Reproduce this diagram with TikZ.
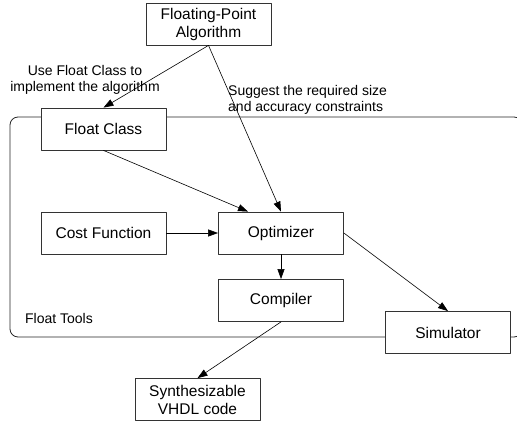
\documentclass[tikz,border=0pt]{standalone}
\usepackage{fontspec}
\setmainfont{Liberation Sans}
\usetikzlibrary{arrows.meta}

\tikzset{
  blk/.style={draw=black!80, fill=white, line width=0.8pt, minimum width=125pt,
    minimum height=42pt, inner sep=2pt, align=center,
    font=\fontsize{15.5}{18}\selectfont},
  elab/.style={inner sep=0pt, font=\fontsize{14}{15.5}\selectfont},
  flow/.style={-{Triangle[length=10pt,width=7pt]}, line width=0.6pt}
}

\begin{document}
\begin{tikzpicture}[x=1pt,y=-1pt, line cap=round, line join=round]
\useasboundingbox (0,0) rectangle (517,423);

% Float Tools frame
\begin{scope}
  \clip (0,0) rectangle (517,423);
  \draw[black!85, line width=0.8pt, rounded corners=8pt] (10,117) rectangle (522,337);
\end{scope}
\node[elab] (tools) at (59,318) {Float Tools};

% blocks
\node[blk] (alg)   at (208.5,24)   {Floating-Point\\Algorithm};
\node[blk] (fc)    at (103.5,129)  {Float Class};
\node[blk] (cost)  at (103.5,233)  {Cost Function};
\node[blk] (opt)   at (281,233)    {Optimizer};
\node[blk] (comp)  at (281,300.5)  {Compiler};
\node[blk] (sim)   at (448,332.5)  {Simulator};
\node[blk] (synth) at (197.5,399.5){Synthesizable\\VHDL code};

% arrows
\draw[flow] (alg.south) -- (fc.north);
\draw[flow] (alg.south) -- (opt.north);
\draw[flow] (fc.south) -- ([xshift=-33pt]opt.north);
\draw[flow] (cost) -- (opt);
\draw[flow] (opt) -- (comp);
\draw[flow] (opt.east) -- (sim.north);
\draw[flow] (comp.south) -- (synth.north);

% edge labels
\node[elab, align=center] (use) at (85,80) {Use Float Class to\\implement the algorithm};
\node[elab, align=left, anchor=west] (sug) at (228,100) {Suggest the required size\\and accuracy constraints};

\end{tikzpicture}
\end{document}
